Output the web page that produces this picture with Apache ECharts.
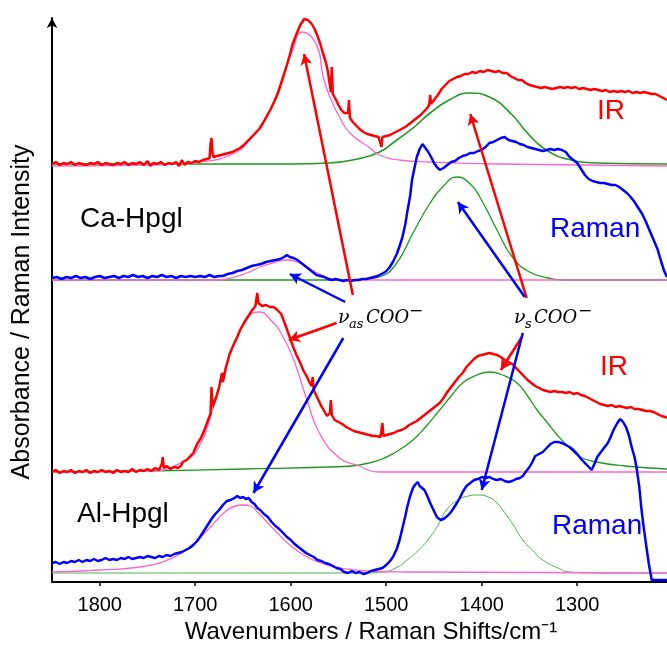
<!DOCTYPE html>
<html>
<head>
<meta charset="utf-8">
<script src="https://cdn.jsdelivr.net/npm/echarts@6/dist/echarts.min.js"></script>
<style>html,body{margin:0;padding:0;background:#fff}#c{width:667px;height:646px}</style>
</head>
<body>
<div id="c"></div>
<script>
// ---- data (x = wavenumber cm^-1, y = intensity a.u.) ----
const tickValues = [1800, 1700, 1600, 1500, 1400, 1300];

const caIR = [[1850,418],[1846,420],[1842,417],[1838,419],[1834,418],[1830,420],[1826,417],[1822,419],[1818,418],[1814,417],[1810,419],[1806,418],[1802,420],[1798,417],[1794,419],[1790,418],[1786,417],[1782,419],[1778,418],[1774,420],[1770,417],[1766,419],[1762,418],[1758,420],[1754,417],[1750,421],[1747,416],[1744,419],[1740,418],[1736,420],[1732,417],[1728,419],[1724,418],[1720,420],[1717,416],[1714,422],[1711,417],[1708,420],[1704,419],[1700,421],[1696,420],[1692,422],[1688,423],[1685,424],[1684,438],[1683,444],[1682,430],[1681,425],[1677,426],[1673,427],[1669,428],[1665,429],[1661,430],[1657,432],[1653,434],[1649,437],[1645,441],[1641,445],[1637,449],[1633,453],[1629,459],[1625,466],[1621,473],[1617,481],[1613,490],[1609,502],[1605,514],[1601,527],[1598,538],[1594,548],[1590,557],[1586,563],[1582,562],[1578,558],[1575,553],[1572,546],[1569,538],[1566,528],[1563,519],[1561,510],[1560,503],[1559,497],[1558,490],[1557,515],[1556,488],[1553,483],[1550,477],[1547,472],[1544,469],[1542,467],[1540,469],[1539,482],[1538,464],[1535,460],[1532,457],[1528,453],[1524,450],[1520,448],[1516,447],[1512,446],[1508,445],[1506,446],[1505,435],[1504,445],[1500,446],[1496,447],[1492,449],[1488,451],[1484,453],[1480,455],[1476,458],[1472,461],[1468,464],[1464,467],[1460,471],[1457,474],[1455,477],[1454,487],[1453,478],[1450,482],[1446,487],[1442,493],[1438,497],[1434,501],[1430,503],[1426,505],[1422,506],[1418,508],[1414,508],[1410,510],[1406,509],[1402,511],[1398,510],[1394,512],[1390,511],[1386,510],[1382,511],[1378,509],[1374,509],[1370,506],[1366,504],[1362,502],[1358,502],[1354,499],[1350,497],[1346,496],[1342,495],[1338,494],[1334,495],[1330,494],[1326,493],[1322,494],[1318,495],[1314,494],[1310,495],[1306,494],[1302,495],[1298,493],[1294,494],[1290,493],[1286,492],[1282,493],[1278,492],[1274,491],[1270,492],[1266,490],[1262,491],[1258,490],[1254,491],[1250,490],[1246,491],[1242,489],[1238,490],[1234,489],[1230,490],[1226,489],[1222,488],[1218,488],[1214,486],[1210,484],[1206,482]];
const caIRFitAs = [[1850,416],[1750,417],[1695,420],[1661,428],[1643,442],[1625,465],[1611,497],[1598,532],[1588,550],[1573,537],[1566,505],[1559,485],[1549,465],[1538,449],[1517,434],[1507,427],[1486,422],[1454,420],[1381,418],[1206,416]];
const caIRFitS = [[1850,418],[1600,418],[1560,419],[1530,423],[1507,430],[1489,442],[1472,454],[1454,469],[1434,482],[1413,489],[1392,485],[1368,467],[1355,452],[1342,439],[1329,430],[1315,424],[1280,419],[1206,418]];

const caRaman = [[1850,304],[1845,305],[1840,303],[1835,305],[1830,304],[1825,306],[1820,304],[1815,305],[1810,303],[1805,305],[1800,306],[1795,304],[1790,305],[1785,306],[1780,304],[1775,306],[1770,305],[1765,307],[1760,305],[1755,306],[1750,304],[1745,306],[1740,305],[1735,307],[1730,305],[1725,306],[1720,304],[1715,306],[1710,305],[1705,306],[1700,305],[1695,306],[1690,305],[1685,307],[1680,305],[1675,306],[1671,306],[1666,308],[1661,309],[1656,311],[1651,312],[1646,314],[1641,316],[1636,317],[1631,318],[1626,320],[1621,321],[1616,322],[1611,323],[1607,325],[1604,327],[1601,325],[1597,324],[1593,322],[1589,319],[1585,316],[1581,313],[1577,310],[1573,307],[1569,306],[1565,305],[1561,303],[1557,302],[1553,303],[1549,302],[1545,301],[1541,302],[1537,301],[1533,302],[1529,302],[1525,303],[1521,303],[1517,304],[1513,305],[1509,306],[1505,308],[1501,310],[1497,314],[1493,320],[1489,328],[1486,336],[1483,345],[1480,358],[1478,370],[1475,386],[1473,402],[1470,416],[1468,425],[1465,433],[1462,438],[1459,434],[1456,430],[1453,425],[1450,419],[1447,415],[1444,412],[1440,414],[1436,417],[1432,420],[1428,421],[1424,424],[1420,426],[1416,427],[1412,429],[1408,429],[1404,431],[1400,432],[1396,435],[1392,439],[1388,440],[1384,442],[1380,444],[1376,445],[1372,442],[1368,441],[1364,440],[1360,438],[1356,437],[1352,435],[1348,434],[1344,433],[1340,432],[1336,431],[1332,432],[1328,433],[1324,432],[1320,433],[1316,432],[1312,430],[1308,425],[1304,422],[1300,419],[1296,413],[1292,407],[1288,403],[1284,401],[1280,400],[1276,399],[1272,399],[1268,398],[1264,397],[1260,397],[1256,395],[1252,392],[1248,389],[1244,385],[1240,380],[1236,374],[1232,368],[1228,360],[1224,351],[1220,342],[1216,333],[1212,320],[1209,311],[1206,305]];
const caRamanFitAs = [[1850,302],[1680,302],[1667,303],[1646,309],[1632,315],[1619,319],[1604,322],[1590,319],[1578,312],[1565,306],[1550,302],[1206,302]];
const caRamanFitS = [[1850,302],[1550,302],[1522,303],[1507,305],[1489,319],[1472,349],[1454,379],[1441,395],[1426,405],[1413,399],[1402,385],[1384,352],[1368,325],[1350,310],[1330,304],[1315,302],[1206,302]];

const alIR = [[1850,110],[1846,112],[1842,109],[1838,111],[1834,110],[1830,112],[1826,109],[1822,111],[1818,110],[1814,112],[1810,109],[1806,111],[1802,110],[1798,112],[1794,110],[1790,111],[1786,109],[1782,112],[1778,110],[1774,111],[1770,110],[1766,113],[1762,110],[1758,112],[1754,111],[1750,113],[1746,111],[1742,114],[1738,112],[1735,118],[1734,125],[1733,114],[1730,116],[1726,113],[1722,115],[1718,114],[1715,116],[1713,120],[1709,122],[1705,126],[1702,129],[1698,138],[1694,144],[1690,153],[1687,161],[1684,168],[1683,195],[1682,175],[1678,185],[1675,195],[1672,209],[1671,200],[1668,214],[1664,228],[1660,237],[1656,245],[1653,252],[1649,259],[1645,265],[1641,271],[1637,276],[1635,289],[1634,279],[1630,276],[1626,277],[1622,275],[1618,275],[1614,272],[1610,268],[1606,258],[1603,250],[1600,242],[1597,234],[1594,227],[1590,219],[1587,212],[1583,205],[1580,199],[1578,196],[1577,205],[1576,192],[1572,184],[1568,176],[1565,171],[1562,166],[1559,169],[1558,182],[1557,167],[1554,162],[1550,160],[1546,158],[1542,155],[1538,153],[1534,151],[1530,150],[1526,149],[1522,148],[1518,147],[1514,146],[1510,146],[1506,145],[1504,159],[1503,146],[1500,147],[1496,148],[1492,149],[1488,151],[1484,152],[1480,154],[1476,157],[1472,159],[1468,161],[1464,164],[1460,167],[1456,170],[1452,173],[1448,176],[1444,179],[1440,184],[1436,190],[1432,195],[1428,200],[1424,205],[1420,209],[1416,215],[1412,219],[1408,223],[1404,226],[1400,227],[1396,228],[1392,229],[1388,228],[1384,227],[1380,225],[1376,222],[1372,220],[1368,218],[1364,214],[1360,210],[1356,206],[1352,202],[1348,199],[1344,196],[1340,194],[1336,192],[1332,191],[1328,190],[1324,191],[1320,190],[1316,190],[1312,189],[1308,190],[1304,188],[1300,189],[1296,187],[1292,186],[1288,184],[1284,182],[1280,180],[1276,178],[1272,177],[1268,176],[1264,177],[1260,175],[1256,176],[1252,175],[1248,174],[1244,175],[1240,173],[1236,173],[1232,172],[1228,171],[1224,171],[1220,170],[1216,168],[1212,166],[1208,165],[1206,164]];
const alIRFitAs = [[1850,110],[1750,111],[1713,120],[1695,137],[1682,172],[1664,227],[1653,252],[1643,267],[1633,270],[1619,260],[1612,252],[1598,225],[1583,182],[1570,149],[1549,124],[1531,117],[1507,110],[1206,110]];
const alIRFitS = [[1850,110],[1750,111],[1650,113],[1560,115],[1528,117],[1507,122],[1490,130],[1472,142],[1458,156],[1444,172],[1432,186],[1420,199],[1405,207],[1392,210],[1378,207],[1363,199],[1352,186],[1342,172],[1331,159],[1321,147],[1308,134],[1297,125],[1280,120],[1250,116],[1206,113]];

const alRaman = [[1850,19],[1846,20],[1842,18],[1838,20],[1834,19],[1830,21],[1826,20],[1822,22],[1818,20],[1814,22],[1810,21],[1806,23],[1802,21],[1798,22],[1794,24],[1790,22],[1786,23],[1782,22],[1778,24],[1774,23],[1770,25],[1766,23],[1762,24],[1758,25],[1754,24],[1750,26],[1746,25],[1742,24],[1738,26],[1734,25],[1730,27],[1726,26],[1722,28],[1718,29],[1714,30],[1710,32],[1706,34],[1702,37],[1698,41],[1695,45],[1691,51],[1687,57],[1683,63],[1679,68],[1675,72],[1671,77],[1667,81],[1663,82],[1659,84],[1656,86],[1653,84],[1650,85],[1647,83],[1644,84],[1641,80],[1638,78],[1635,74],[1632,72],[1628,68],[1624,65],[1620,60],[1616,56],[1612,53],[1608,49],[1604,45],[1600,42],[1596,38],[1592,35],[1588,32],[1584,29],[1580,27],[1576,25],[1572,22],[1568,21],[1564,19],[1560,18],[1556,16],[1552,14],[1548,13],[1544,10],[1540,9],[1536,11],[1532,9],[1528,10],[1524,8],[1520,9],[1516,11],[1512,12],[1508,13],[1504,14],[1500,17],[1496,21],[1493,25],[1489,33],[1486,42],[1483,54],[1480,66],[1478,75],[1475,86],[1472,94],[1470,97],[1467,100],[1465,96],[1463,98],[1460,92],[1457,86],[1454,79],[1450,71],[1447,65],[1443,62],[1440,63],[1436,66],[1433,69],[1430,73],[1426,79],[1423,84],[1420,90],[1416,96],[1412,99],[1408,102],[1404,103],[1400,105],[1396,104],[1392,105],[1388,103],[1384,102],[1380,103],[1376,101],[1372,100],[1368,101],[1364,103],[1360,104],[1357,106],[1354,110],[1350,115],[1347,120],[1344,126],[1340,128],[1336,130],[1332,134],[1328,138],[1324,140],[1320,140],[1316,139],[1312,137],[1308,135],[1304,132],[1300,128],[1296,123],[1292,119],[1288,115],[1285,112],[1282,118],[1279,125],[1276,129],[1272,134],[1268,139],[1265,145],[1262,152],[1258,159],[1255,163],[1252,160],[1249,155],[1246,147],[1243,135],[1240,125],[1238,115],[1235,95],[1233,75],[1231,59],[1228,38],[1225,18],[1222,2],[1206,2]];
const alRamanFitAs = [[1850,10],[1800,12],[1758,15],[1724,24],[1706,35],[1685,54],[1669,70],[1658,76],[1650,77],[1642,76],[1635,70],[1619,54],[1601,37],[1583,25],[1565,18],[1549,14],[1520,11],[1480,10],[1206,9]];
const alRamanFitS = [[1850,9],[1530,9],[1504,10],[1490,14],[1478,22],[1466,32],[1454,45],[1445,58],[1437,72],[1425,82],[1414,86],[1404,87],[1393,85],[1385,80],[1378,72],[1367,57],[1357,42],[1346,31],[1336,22],[1320,14],[1308,10],[1280,9],[1206,9]];

// annotation arrows: [tail, head] in data coordinates
const redArrows = [
  [[1535,287],[1586,528]],
  [[1353,284],[1412,468]],
  [[1552,259],[1602,242]],
  [[1358,245],[1380,212]]
];
const blueArrows = [
  [[1543,280],[1601,308]],
  [[1355,285],[1425,380]],
  [[1545,244],[1639,89]],
  [[1357,249],[1400,92]]
];

const RED = '#ff0000', BLUE = '#0000ff', PINK = '#ff66cc', GREEN = '#1f9a1f';
const SANS = '"Liberation Sans", Arial, sans-serif';
const SERIF = '"DejaVu Serif", "Liberation Serif", serif';

function line(data, color, width, smooth, z) {
  return { type: 'line', data: data, showSymbol: false, symbol: 'none', smooth: smooth,
    lineStyle: { color: color, width: width }, z: z, clip: false, silent: true };
}
function arrows(list, color) {
  return { type: 'line', data: [], silent: true, z: 10,
    markLine: { silent: true, symbol: ['none', 'arrow'], symbolSize: [9, 11], animation: false,
      label: { show: false },
      lineStyle: { color: color, width: 2.5, type: 'solid' },
      emphasis: { disabled: true },
      data: list.map(a => [{ coord: a[0] }, { coord: a[1] }]) } };
}
function txt(text, x, y, size, color, family, style) {
  return { type: 'text', x: x, y: y, silent: true, z: 20,
    style: { text: text, fill: color, font: (style || '') + ' ' + size + 'px ' + family,
      align: 'left', verticalAlign: 'middle', textAlign: 'left', textVerticalAlign: 'middle' } };
}

const chart = echarts.init(document.getElementById('c'), null, { renderer: 'canvas' });
chart.setOption({
  animation: false,
  grid: { left: 52, right: 0, top: 18, bottom: 64 },
  xAxis: {
    type: 'value', min: 1206, max: 1850, inverse: true,
    axisLine: { lineStyle: { color: '#000', width: 2 } },
    axisTick: { customValues: tickValues, length: 4, lineStyle: { color: '#000', width: 1.5 } },
    axisLabel: { customValues: tickValues, fontSize: 20, fontFamily: SANS, color: '#000', margin: 13,
      formatter: v => String(v) },
    splitLine: { show: false }
  },
  yAxis: {
    type: 'value', min: 0, max: 564,
    axisLine: { show: true, symbol: ['none', 'arrow'], symbolSize: [8, 10], lineStyle: { color: '#000', width: 2 } },
    axisTick: { show: false }, axisLabel: { show: false }, splitLine: { show: false }
  },
  series: [
    line(caIRFitS, GREEN, 1.6, true, 2),
    line(caIRFitAs, PINK, 1.3, true, 2),
    line(caRamanFitS, GREEN, 1.3, true, 2),
    line(caRamanFitAs, PINK, 1.3, true, 2),
    line(alIRFitS, GREEN, 1.3, true, 2),
    line(alIRFitAs, PINK, 1.3, true, 2),
    line(alRamanFitS, '#4fb04f', 1, true, 2),
    line(alRamanFitAs, PINK, 1.3, true, 2),
    line(caIR, RED, 2.5, false, 3),
    line(caRaman, BLUE, 2.5, false, 3),
    line(alIR, RED, 2.5, false, 3),
    line(alRaman, BLUE, 2.5, false, 3),
    arrows(redArrows, RED),
    arrows(blueArrows, BLUE)
  ],
  graphic: [
    txt('IR', 597, 111, 28, RED, SANS),
    txt('Raman', 550, 229, 28, BLUE, SANS),
    txt('Ca-Hpgl', 80, 219, 28, '#000', SANS),
    txt('IR', 600, 367, 28, RED, SANS),
    txt('Raman', 552, 526, 28, BLUE, SANS),
    txt('Al-Hpgl', 77, 514, 28, '#000', SANS),
    txt('ν', 338, 318, 19, '#000', SERIF, 'italic'),
    txt('as', 349, 325, 13, '#000', SERIF, 'italic'),
    txt('COO', 366, 318, 18, '#000', SERIF, 'italic'),
    txt('−', 409, 312, 17, '#000', SERIF),
    txt('ν', 514, 318, 19, '#000', SERIF, 'italic'),
    txt('s', 525, 325, 13, '#000', SERIF, 'italic'),
    txt('COO', 534, 318, 18, '#000', SERIF, 'italic'),
    txt('−', 578, 312, 17, '#000', SERIF),
    { type: 'text', x: 371, y: 632, silent: true,
      style: { text: 'Wavenumbers / Raman Shifts/cm⁻¹', fill: '#000', font: '24px ' + SANS,
        align: 'center', verticalAlign: 'middle', textAlign: 'center', textVerticalAlign: 'middle' } },
    { type: 'text', x: 22, y: 312, rotation: Math.PI / 2, silent: true,
      style: { text: 'Absorbance / Raman Intensity', fill: '#000', font: '25px ' + SANS,
        align: 'center', verticalAlign: 'middle', textAlign: 'center', textVerticalAlign: 'middle' } }
  ]
});
</script>
</body>
</html>
